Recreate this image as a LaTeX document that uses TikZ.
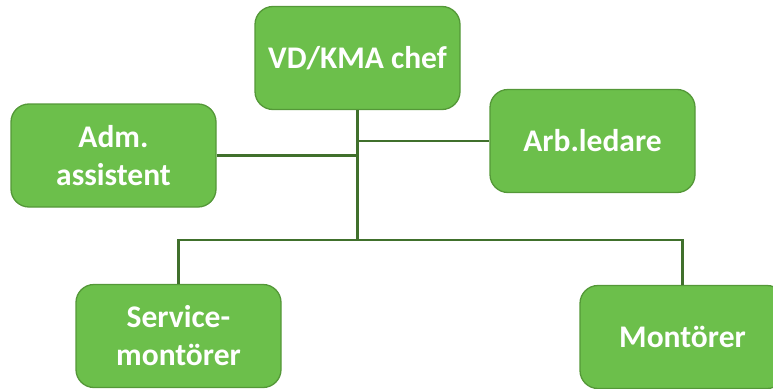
\documentclass[tikz,border=0pt]{standalone}
\usepackage{fontspec}
\setmainfont{Carlito}
\definecolor{boxfill}{RGB}{108,191,75}
\definecolor{boxdraw}{RGB}{84,152,56}
\definecolor{linec}{RGB}{64,112,44}
\begin{document}
\begin{tikzpicture}[x=1pt,y=-1pt,
  orgbox/.style={draw=boxdraw, line width=1.3pt, fill=boxfill, rounded corners=18pt,
    minimum width=205pt, minimum height=103pt, text=white, align=center,
    font=\fontsize{31.5}{38}\selectfont\bfseries, inner sep=0pt},
  conn/.style={draw=linec, line width=2.2pt}]
\useasboundingbox (0,0) rectangle (773,388);
\node[orgbox] (vd) at (357.5,58) {VD/KMA chef};
\node[orgbox] (adm) at (113.5,155.5) {Adm.\\assistent};
\node[orgbox] (arb) at (592.5,141) {Arb.ledare};
\node[orgbox] (srv) at (178.5,336) {Service-\\montörer};
\node[orgbox] (mon) at (682.5,337) {Montörer};
\coordinate (bus) at (357.5,240);
\coordinate (ja) at (357.5,155.5);
\coordinate (jb) at (357.5,141);
\draw[conn] (vd.south) -- (bus);
\draw[conn] (adm.east) -- (ja);
\draw[conn] (jb) -- (arb.west);
\draw[conn] (srv.north) |- (bus) -| (mon.north);
\end{tikzpicture}
\end{document}
